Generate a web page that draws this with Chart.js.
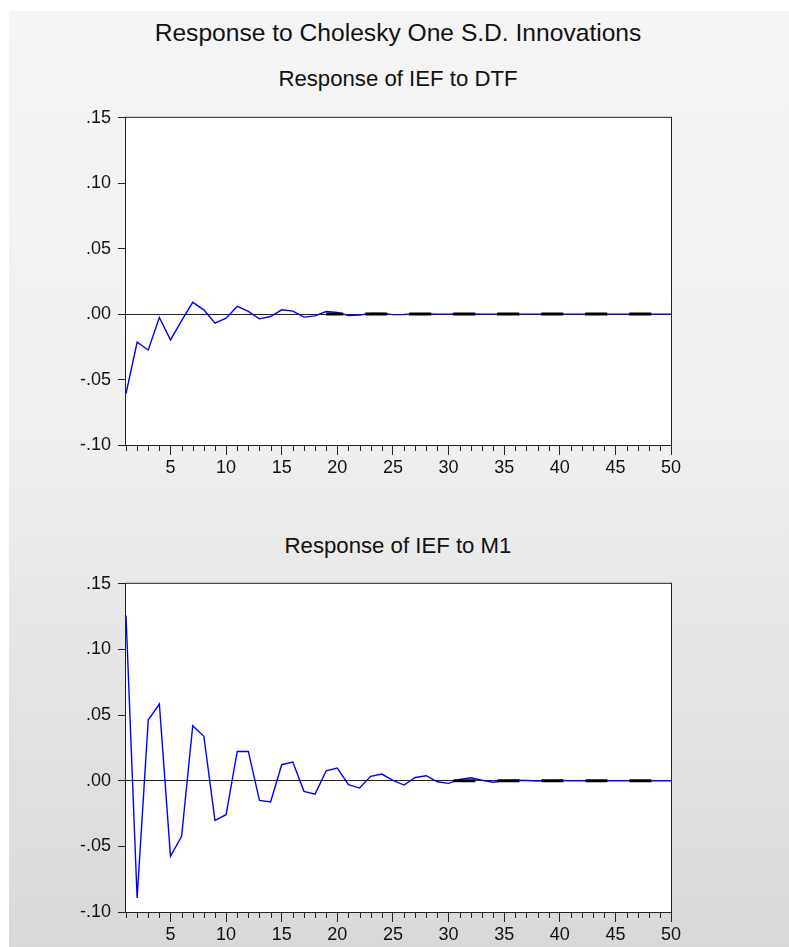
<!DOCTYPE html>
<html>
<head>
<meta charset="utf-8">
<script src="https://cdn.jsdelivr.net/npm/chart.js@4/dist/chart.umd.min.js"></script>
<style>
  html, body { margin: 0; padding: 0; background: #fff; overflow: hidden; }
  body { width: 789px; height: 947px; position: relative; font-family: "Liberation Sans", Arial, sans-serif; }
  #fond {
    position: absolute; left: 9px; top: 11px; right: 0; bottom: 0;
    background: linear-gradient(to bottom, #f5f5f5 0%, #f0f0f0 45%, #d8d8d8 100%);
  }
  .titre { position: absolute; left: 98px; width: 600px; text-align: center; color: #111; white-space: nowrap; }
  #titre { top: 19px; font-size: 24.6px; line-height: 28px; }
  .sous { font-size: 22.2px; line-height: 26px; }
  #sous1 { top: 66px; }
  #sous2 { top: 533px; }
  .boite { position: absolute; left: 60px; width: 640px; }
  #boite1 { top: 100px; height: 380px; }
  #boite2 { top: 566px; height: 381px; }
</style>
</head>
<body>
<div id="fond"></div>
<div class="titre" id="titre">Response to Cholesky One S.D. Innovations</div>
<div class="titre sous" id="sous1">Response of IEF to DTF</div>
<div class="titre sous" id="sous2">Response of IEF to M1</div>
<div class="boite" id="boite1"><canvas id="graphDTF"></canvas></div>
<div class="boite" id="boite2"><canvas id="graphM1"></canvas></div>

<script>
// Périodes (horizon de la réponse)
const periods = [1, 2, 3, 4, 5, 6, 7, 8, 9, 10, 11, 12, 13, 14, 15, 16, 17, 18, 19, 20,
  21, 22, 23, 24, 25, 26, 27, 28, 29, 30, 31, 32, 33, 34, 35, 36, 37, 38, 39, 40,
  41, 42, 43, 44, 45, 46, 47, 48, 49, 50];

// Réponse de IEF à un choc sur DTF
const responseDTF = [-0.0608, -0.0215, -0.0274, -0.0026, -0.0197, -0.0049, 0.0090, 0.0033, -0.0069, -0.0031,
  0.0059, 0.0021, -0.0036, -0.0018, 0.0033, 0.0023, -0.0023, -0.0013, 0.0020, 0.0013,
  -0.0010, -0.0008, 0.0006, 0.0005, -0.0004, -0.0003, 0.0002, 0.0002, -0.0001, -0.0001,
  0.0001, 0.0001, -0.0001, 0.0000, 0.0000, 0.0000, 0.0000, 0.0000, 0.0000, 0.0000,
  0.0000, 0.0000, 0.0000, 0.0000, 0.0000, 0.0000, 0.0000, 0.0000, 0.0000, 0.0000];

// Réponse de IEF à un choc sur M1
const responseM1 = [0.1259, -0.0893, 0.0462, 0.0584, -0.0576, -0.0424, 0.0419, 0.0338, -0.0302, -0.0259,
  0.0223, 0.0223, -0.0150, -0.0162, 0.0122, 0.0142, -0.0081, -0.0102, 0.0076, 0.0096,
  -0.0030, -0.0056, 0.0033, 0.0051, 0.0003, -0.0033, 0.0025, 0.0038, -0.0008, -0.0020,
  0.0010, 0.0023, 0.0004, -0.0012, 0.0000, 0.0004, 0.0002, -0.0002, 0.0001, 0.0002,
  0.0000, 0.0000, 0.0001, 0.0000, 0.0000, 0.0000, 0.0000, 0.0000, 0.0000, 0.0000];

// Bandes ±2 S.E. : visibles seulement là où elles se confondent avec zéro
const bandeDTF = [null, null, null, null, null, null, null, null, null, null,
  null, null, null, null, null, null, null, null, 0, 0,
  0, 0, 0, 0, 0, 0, 0, 0, 0, 0, 0, 0, 0, 0, 0, 0, 0, 0, 0, 0,
  0, 0, 0, 0, 0, 0, 0, 0, 0, 0];
const bandeM1 = [null, null, null, null, null, null, null, null, null, null,
  null, null, null, null, null, null, null, null, null, null,
  null, null, null, null, null, null, null, null, 0, 0,
  0, 0, 0, 0, 0, 0, 0, 0, 0, 0, 0, 0, 0, 0, 0, 0, 0, 0, 0, 0];

const yMin = -0.10;
const yMax = 0.15;
const yStep = 0.05;

Chart.defaults.font.family = '"Liberation Sans", Arial, sans-serif';
Chart.defaults.font.size = 18;
Chart.defaults.color = '#111';

// Fond blanc, cadre et petites graduations
const cadrePlugin = {
  id: 'cadre',
  beforeDraw(chart) {
    const { ctx, chartArea: a } = chart;
    ctx.save();
    ctx.fillStyle = '#fff';
    ctx.fillRect(a.left, a.top, a.width, a.height);
    ctx.restore();
  },
  afterDraw(chart) {
    const { ctx, chartArea: a } = chart;
    const xs = chart.scales.x;
    ctx.save();
    ctx.strokeStyle = '#222';
    ctx.lineWidth = 1;
    ctx.strokeRect(a.left - 0.5, a.top - 0.5, a.width + 1, a.height + 1);
    ctx.beginPath();
    periods.forEach((p, i) => {
      if (p % 5 !== 0) {
        const px = Math.round(xs.getPixelForTick(i)) + 0.5;
        ctx.moveTo(px, a.bottom);
        ctx.lineTo(px, a.bottom + 6);
      }
    });
    ctx.stroke();
    ctx.restore();
  }
};

function dessinerGraphique(idCanvas, reponse, bande, decalage) {
  const ctx = document.getElementById(idCanvas).getContext('2d');
  return new Chart(ctx, {
    type: 'line',
    data: {
      labels: periods,
      datasets: [
        {
          label: '±2 S.E.',
          data: bande,
          borderColor: '#000',
          borderWidth: 3,
          borderDash: [22, 22],
          borderDashOffset: decalage,
          pointRadius: 0,
          tension: 0,
          spanGaps: false,
          order: 0
        },
        {
          label: 'Response',
          data: reponse,
          borderColor: '#0000ff',
          borderWidth: 1.4,
          pointRadius: 0,
          tension: 0,
          order: 1
        }
      ]
    },
    options: {
      responsive: true,
      maintainAspectRatio: false,
      animation: false,
      layout: { padding: { top: 17, right: 29, left: 0, bottom: 0 } },
      plugins: {
        legend: { display: false },
        tooltip: { enabled: false }
      },
      scales: {
        x: {
          offset: false,
          afterFit: (s) => { s.height = 35; },
          border: { display: false },
          grid: {
            offset: false,
            drawOnChartArea: false,
            tickLength: 10,
            tickColor: (c) => periods[c.index] % 5 === 0 ? '#222' : 'rgba(0,0,0,0)'
          },
          ticks: {
            autoSkip: false,
            maxRotation: 0,
            padding: 2,
            callback: (v, i) => periods[i] % 5 === 0 ? String(periods[i]) : ''
          }
        },
        y: {
          min: yMin,
          max: yMax,
          afterFit: (s) => { s.width = 66; },
          border: { display: false },
          grid: {
            drawOnChartArea: true,
            tickLength: 8,
            tickColor: '#222',
            color: (c) => c.tick && Math.abs(c.tick.value) < 1e-9 ? '#222' : 'rgba(0,0,0,0)'
          },
          ticks: {
            stepSize: yStep,
            padding: 7,
            callback: (v) => v.toFixed(2).replace('0.', '.')
          }
        }
      }
    },
    plugins: [cadrePlugin]
  });
}

dessinerGraphique('graphDTF', responseDTF, bandeDTF, 5);
dessinerGraphique('graphM1', responseM1, bandeM1, 28);
</script>
</body>
</html>
